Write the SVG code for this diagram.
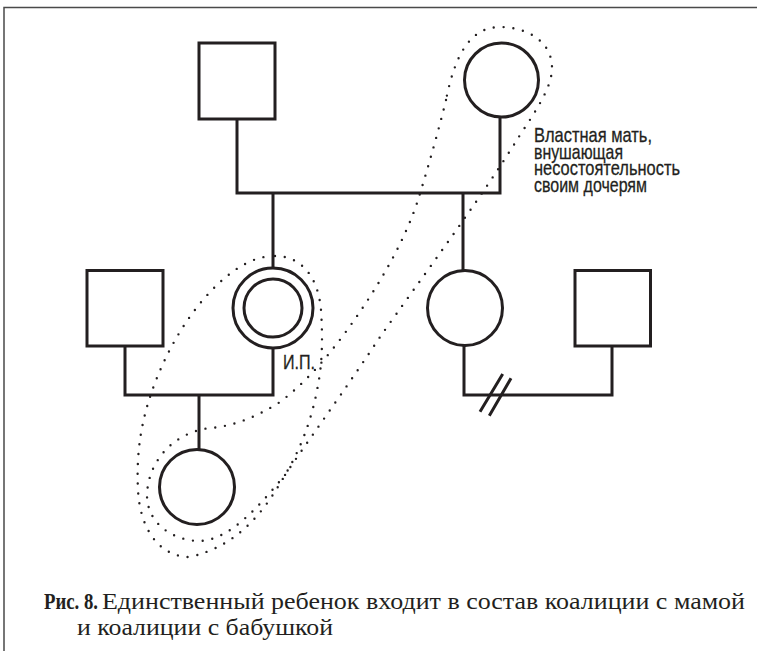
<svg xmlns="http://www.w3.org/2000/svg" width="757" height="651" viewBox="0 0 757 651">
  <style>
    .ln { fill: none; stroke: #231f20; stroke-width: 3; }
    .nd { fill: #fff; stroke: #231f20; stroke-width: 3; }
    .dot { fill: none; stroke: #231f20; stroke-width: 2.4; stroke-linecap: round; stroke-dasharray: 0 9.8; }
    .frame { fill: none; stroke: #4a4a4a; stroke-width: 1.5; }
    .lbl { font-family: "Liberation Sans Narrow", "Liberation Sans", Arial, sans-serif; font-size: 21px; fill: #231f20; stroke: #231f20; stroke-width: 0.3; }
    .cap { font-family: "Liberation Serif", "Times New Roman", serif; font-size: 24px; fill: #231f20; }
  </style>
  <rect width="757" height="651" fill="#fff"/>

  <!-- page frame -->
  <path class="frame" d="M4,651 V7.5 H757"/>

  <!-- connectors: marriage and descent lines -->
  <g id="connectors">
    <path class="ln" d="M237,119 V193 M235.5,193 H501.5 M500,117 V193"/>
    <path class="ln" d="M273,193 V268"/>
    <path class="ln" d="M463,193 V271"/>
    <path class="ln" d="M125,346 V395 M123.5,395 H274.5 M273,348 V395"/>
    <path class="ln" d="M199,395 V450"/>
    <path class="ln" d="M464,345 V395 M462.5,395 H613.5 M612,346 V395"/>
    <!-- divorce mark -->
    <path class="ln" d="M502.7,374 L480,411.7 M511,378.3 L489.3,415.7"/>
  </g>

  <!-- grandparents -->
  <g id="grandfather">
    <rect class="nd" x="199" y="43" width="76" height="76"/>
  </g>
  <g id="grandmother">
    <circle class="nd" cx="501.5" cy="80" r="37"/>
  </g>

  <!-- parents' generation -->
  <g id="husband">
    <rect class="nd" x="87" y="270.5" width="76" height="75.5"/>
  </g>
  <g id="ip">
    <circle class="nd" cx="273" cy="308" r="40"/>
    <circle class="nd" cx="273" cy="308" r="29"/>
    <text class="lbl" x="283" y="369" textLength="32" lengthAdjust="spacingAndGlyphs">И.П.</text>
  </g>
  <g id="sister">
    <circle class="nd" cx="465" cy="308" r="37.5"/>
  </g>
  <g id="sister-husband">
    <rect class="nd" x="575" y="270.5" width="75.5" height="75.5"/>
  </g>

  <!-- child -->
  <g id="child">
    <circle class="nd" cx="197" cy="487" r="37.5"/>
  </g>

  <!-- coalitions -->
  <g id="coalition-grandmother">
    <path class="dot" d="M446,100 C440,125 428,168 418,200 C405,240 380,285 345,333 C325,360 305,383 280,402 C258,416 235,426 210,428 C175,432 148,460 147,495 C147,525 175,541 200,541 C230,540 260,505 285,475 C305,445 345,390 380,337 C420,280 480,200 520,135 C540,105 552,85 552,68 C552,40 525,27 500,27 C470,27 455,55 446,100 Z"/>
  </g>
  <g id="coalition-mother">
    <path class="dot" d="M275,256 C300,256 318,275 321,310 C323,340 322,365 318,385 C312,420 300,450 285,475 C265,510 240,545 190,557 C160,557 140,530 138,490 C136,450 142,420 152,391 C170,340 200,295 235,270 C250,260 262,256 275,256 Z"/>
  </g>

  <g id="note">
    <text class="lbl" x="534" y="142" textLength="118" lengthAdjust="spacingAndGlyphs">Властная мать,</text>
    <text class="lbl" x="534" y="158.5" textLength="89" lengthAdjust="spacingAndGlyphs">внушающая</text>
    <text class="lbl" x="534" y="175" textLength="146" lengthAdjust="spacingAndGlyphs">несостоятельность</text>
    <text class="lbl" x="534" y="191.5" textLength="113" lengthAdjust="spacingAndGlyphs">своим дочерям</text>
  </g>

  <g id="caption">
    <text class="cap" x="44" y="609" font-weight="bold" textLength="54" lengthAdjust="spacingAndGlyphs">Рис. 8.</text>
    <text class="cap" x="102" y="609" textLength="643" lengthAdjust="spacingAndGlyphs">Единственный ребенок входит в состав коалиции с мамой</text>
    <text class="cap" x="77" y="635" textLength="256" lengthAdjust="spacingAndGlyphs">и коалиции с бабушкой</text>
  </g>
</svg>
